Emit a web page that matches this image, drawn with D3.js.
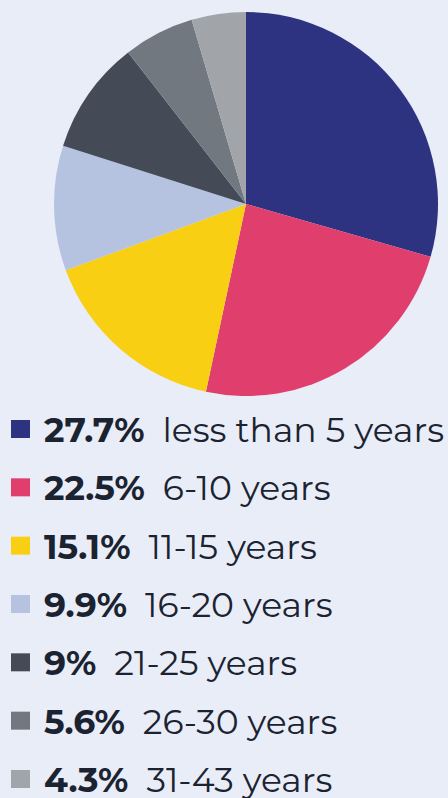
<!DOCTYPE html>
<html><head><meta charset="utf-8">
<script src="https://cdn.jsdelivr.net/npm/d3@7/dist/d3.min.js"></script>
<style>
html,body{margin:0;padding:0;background:#e9edf8;}
svg{display:block;}
</style></head>
<body><svg id="c" width="448" height="798"></svg>
<script>
const categories = ["less than 5 years","6-10 years","11-15 years","16-20 years","21-25 years","26-30 years","31-43 years"];
const values = [27.7, 22.5, 15.1, 9.9, 9, 5.6, 4.3];
const valueLabels = ["27.7%","22.5%","15.1%","9.9%","9%","5.6%","4.3%"];
const colors = ["#2d3380","#e03e6c","#f9cf14","#b5c3e0","#454b56","#727880","#a1a5a9"];

const svg = d3.select("#c");
const cx = 246, cy = 204, r = 192;
const pie = d3.pie().sort(null).value(d => d)(values);
const arc = d3.arc().innerRadius(0).outerRadius(r);
svg.append("g").attr("transform", `translate(${cx},${cy})`)
  .selectAll("path").data(pie).join("path")
  .attr("d", arc).attr("fill", (d,i) => colors[i]);

const font = "Montserrat, 'DejaVu Sans', sans-serif";
const y = d3.scalePoint().domain(d3.range(categories.length)).range([442, 792]);
const rows = svg.append("g").selectAll("g").data(categories).join("g")
  .attr("transform", (d,i) => `translate(0,${y(i)})`);
rows.append("rect").attr("x", 11).attr("y", -22).attr("width", 19).attr("height", 18)
  .attr("fill", (d,i) => colors[i]);
rows.each(function(d,i){
  const g = d3.select(this);
  const b = g.append("text").attr("x", 44).attr("y", 0)
    .attr("font-family", font).attr("font-weight", "bold").attr("font-size", 34.6)
    .attr("fill", "#1b2330").text(valueLabels[i]);
  const w = b.node().getComputedTextLength();
  g.append("text").attr("x", 44 + w + 18).attr("y", 0)
    .attr("font-family", font).attr("font-size", 34.6)
    .attr("fill", "#1b2330").text(categories[i]);
});
</script></body></html>
